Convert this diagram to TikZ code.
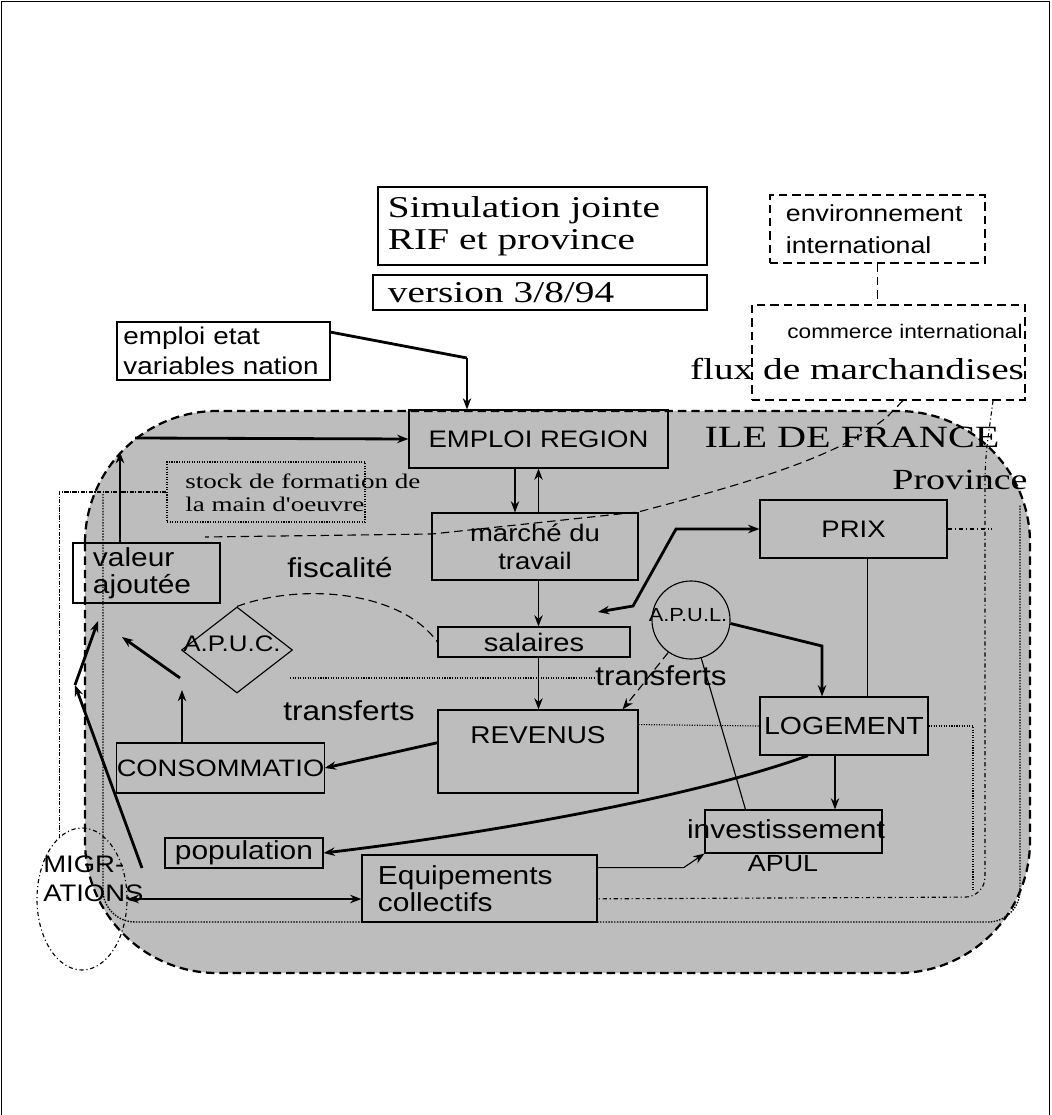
\documentclass[tikz,border=0pt]{standalone}
\usepackage{fontspec}
\setmainfont{Liberation Serif}
\setsansfont{Liberation Sans}
\newfontfamily\wideserif[FakeStretch=1.3]{Liberation Serif}
\newfontfamily\widesans[FakeStretch=1.15]{Liberation Sans}
\usetikzlibrary{arrows.meta,shapes.geometric}
\definecolor{idfgray}{gray}{0.74}
\newcommand{\setsz}[2]{\fontsize{#1}{#2}\selectfont}
\tikzset{
  dashed/.style={dash pattern=on 6pt off 3.5pt},
  box/.style={draw,rectangle,inner sep=0pt,align=center},
  dbox/.style={box,dashed},
  lbl/.style={font=\widesans\setsz{17}{20}},
  thk/.style={line width=2pt},
}

\begin{document}
\begin{tikzpicture}[x=0.025cm,y=-0.025cm,line width=0.8pt,>={Stealth[length=8pt,width=6pt]}]
\useasboundingbox (0,0) rectangle (1051,1115);
\fill[white] (0,0) rectangle (1051,1115);
% frame
\draw (1.5,1115) -- (1.5,1.5) -- (1049.5,1.5) -- (1049.5,1115);
% ile de france region
\draw[dashed,line width=1.6pt,fill=idfgray,rounded corners=3.3cm] (85,411) rectangle (1030,973);
% title and outside boxes
\node[box,fill=white,font=\wideserif\setsz{21.5}{23},minimum width=8.225cm,minimum height=1.95cm,text width=7.725cm,align=left] (sim) at (542.5,226) {Simulation jointe\\RIF et province};
\node[box,fill=white,font=\wideserif\setsz{21.5}{23},minimum width=8.35cm,minimum height=0.875cm,text width=7.6cm,align=left] (ver) at (540,292.5) {version 3/8/94};
\node[box,fill=white,font=\widesans\setsz{17.2}{21},minimum width=5.325cm,minimum height=1.45cm,text width=5cm,align=left] (nat) at (223.5,351) {emploi etat\\variables nation};
\node[dbox,fill=white,font=\widesans\setsz{16.5}{23},minimum width=5.375cm,minimum height=1.7cm,text width=4.575cm,align=left] (env) at (877.5,229) {environnement\\international};
\node[dbox,fill=white,minimum width=6.825cm,minimum height=2.375cm] (com) at (888.5,352.5) {};
\node[font=\widesans\setsz{14}{16}] (comt) at (905,331) {commerce international};
\node[font=\wideserif\setsz{21.5}{24}] (flux) at (857,369) {flux de marchandises};
% province
\draw[densely dotted,line width=1pt,rounded corners=0.8cm] (103,494) -- (103,922) -- (1020,922) -- (1020,505);
\draw[dashed] ([xshift=0.3625cm]com.south) -- (887,417) .. controls (840,455) and (760,480) .. (638,512) -- (432,534) -- (205,537);
\node[font=\wideserif\setsz{22}{24}] (idf) at (852,437) {ILE DE FRANCE};
\node[font=\wideserif\setsz{20.8}{22}] (prov) at (960,480) {Province};
% boxes inside
\node[box,lbl,minimum width=6.475cm,minimum height=1.45cm] (emp) at (538.5,439) {EMPLOI REGION};
\node[box,densely dotted,minimum width=4.95cm,minimum height=1.5cm] (stock) at (266,492) {};
\node[anchor=west,align=left,font=\wideserif\setsz{14.8}{16.5}] (stockt) at (180,493) {stock de formation de\\la main d'oeuvre};
\node[box,lbl,minimum width=5.15cm,minimum height=1.675cm] (mar) at (535,546.5) {marché du\\travail};
\node[box,lbl,minimum width=4.675cm,minimum height=1.45cm] (prix) at (853.5,529) {PRIX};
\node[box,font=\widesans\setsz{18.5}{19.5},minimum width=3.675cm,minimum height=1.5cm,text width=2.675cm,align=left] (val) at (146.5,573) {valeur\\ajoutée};
\node[font=\widesans\setsz{19.5}{21}] (fisc) at (340,568) {fiscalité};
\node[diamond,draw,inner sep=0pt,minimum width=2.775cm,minimum height=2.15cm] (apuc) at (237,650) {};
\node[font=\widesans\setsz{16}{18}] (apuct) at (232,644) {A.P.U.C.};
\node[box,font=\widesans\setsz{18}{20},minimum width=4.8cm,minimum height=0.75cm] (sal) at (534,642) {salaires};
\node[circle,draw,inner sep=0pt,minimum size=1.95cm] (apul) at (691,620) {};
\node[font=\widesans\setsz{13.5}{15}] (apult) at (688,615) {A.P.U.L.};
\node[font=\widesans\setsz{19.5}{21}] (trL) at (349,711) {transferts};
\node[font=\widesans\setsz{19.5}{21}] (trR) at (661,676) {transferts};
\node[box,font=\widesans\setsz{17.3}{20},minimum width=5cm,minimum height=2.075cm,text height=0.825cm,text depth=1.25cm] (rev) at (538,751.5) {REVENUS};
\node[box,font=\widesans\setsz{17.6}{20},minimum width=4.2cm,minimum height=1.45cm] (log) at (844,726) {LOGEMENT};
\node[box,font=\widesans\setsz{16.9}{20},minimum width=5.125cm,minimum height=1.25cm] (con) at (220.5,768) {CONSOMMATIO};
\node[box,minimum width=4.425cm,minimum height=1.075cm] (inv) at (793.5,831.5) {};
\node[font=\widesans\setsz{18.5}{20}] (invt) at (786,829) {investissement};
\node[font=\widesans\setsz{16.6}{18}] (apulb) at (783,864) {APUL};
\node[box,font=\widesans\setsz{18.5}{20},minimum width=3.95cm,minimum height=0.75cm] (pop) at (244,853) {population};
\node[box,font=\widesans\setsz{18.5}{19},minimum width=5.875cm,minimum height=1.675cm,text width=5.075cm,align=left] (equ) at (479.5,888.5) {Equipements\\collectifs};
\node[ellipse,draw,dashdotted,minimum width=2.25cm,minimum height=3.55cm,inner sep=0pt] (migr) at (82,899) {};
\node[font=\widesans\setsz{17}{20.6},align=left,anchor=west] (migrt) at (38,879) {MIGR-\\ATIONS};
% province edge towards equipements
\draw[dashdotted,rounded corners=0.5cm] ([xshift=2.6125cm]com.south) -- (985,460) -- (985,897) -- (equ.-5);
% from outside
\coordinate (nj) at (467,358);
\draw[thk] (nat.10) -- (nj);
\draw[->] (nj) -- (nj |- emp.north);
\draw[dashed] (env.south) -- (env.south |- com.north);
% valeur ajoutee to emploi
\coordinate (vu) at (120,452);
\coordinate (el) at (135,438);
\draw[thk,->] (vu |- val.north) -- (vu);
\draw[thk,->] (el) -- (emp.west);
% emploi, marche, salaires, revenus
\draw[->] ([xshift=-0.5875cm]emp.south) -- ([xshift=-0.5875cm]emp.south |- mar.north);
\draw[->] (emp.south |- mar.north) -- (emp.south);
\draw[->] (mar.south -| emp.south) -- (sal.north -| emp.south);
\draw[->] (sal.south -| emp.south) -- (rev.north -| emp.south);
% revenus, consommation
\draw[thk,->] (rev.175) -- (con.east);
\coordinate (cu) at (182,690);
\draw[->] (con.north -| cu) -- (cu);
\coordinate (cv) at (180,678);
\coordinate (vb) at (122,637);
\draw[thk,->] (cv) -- (vb);
% migrations
\coordinate (mg1) at (142,868);
\coordinate (mg2) at (75,685);
\coordinate (mg3) at (98,621);
\draw[thk,->] (mg1) -- (mg2);
\draw[thk,->] (mg2) -- (mg3);
\draw[thk,<->] (migr.east) -- (migr.east -| equ.west);
\draw[densely dashdotted] (stock.west) -| (migr.110);
% prix, logement, apul
\coordinate (p1) at (598,612);
\coordinate (p2) at (633,606);
\coordinate (p3) at (676,529);
\draw[thk,<->] (p1) -- (p2) -- (p3) -- (prix.west);
\coordinate (lb) at (822,646);
\draw[thk,->] (apul.-5) -- (lb) -- (lb |- log.north);
\draw ([xshift=0.34cm]prix.south) -- ([xshift=0.34cm]prix.south |- log.north);
\draw[dashed,->] (apul.235) -- ([xshift=-0.4cm]rev.north east);
\draw (apul.285) -- ([xshift=-1.2cm]inv.north);
\draw[->] ([xshift=-0.225cm]log.south) -- ([xshift=-0.225cm]log.south |- inv.north);
\draw[thk,->] ([xshift=-0.9cm]log.south) .. controls (700,795) and (500,832) .. (pop.east);
\draw[->] (equ.10) -- ++(86,0) -- (inv.south west);
\draw[dashed] (apuc.north) .. controls (300,583) and (400,590) .. (sal.west);
% dotted links
\coordinate (d1) at (290,678);
\coordinate (d2) at (595,678);
\draw[densely dotted] (d1) -- (d2);
\draw[densely dotted] (rev.15) -- (log.west);
\draw[densely dotted] (log.east) -- (973,726) -- (973,890);
\draw[dashdotted] (prix.east) -- (992,529);
\end{tikzpicture}
\end{document}
